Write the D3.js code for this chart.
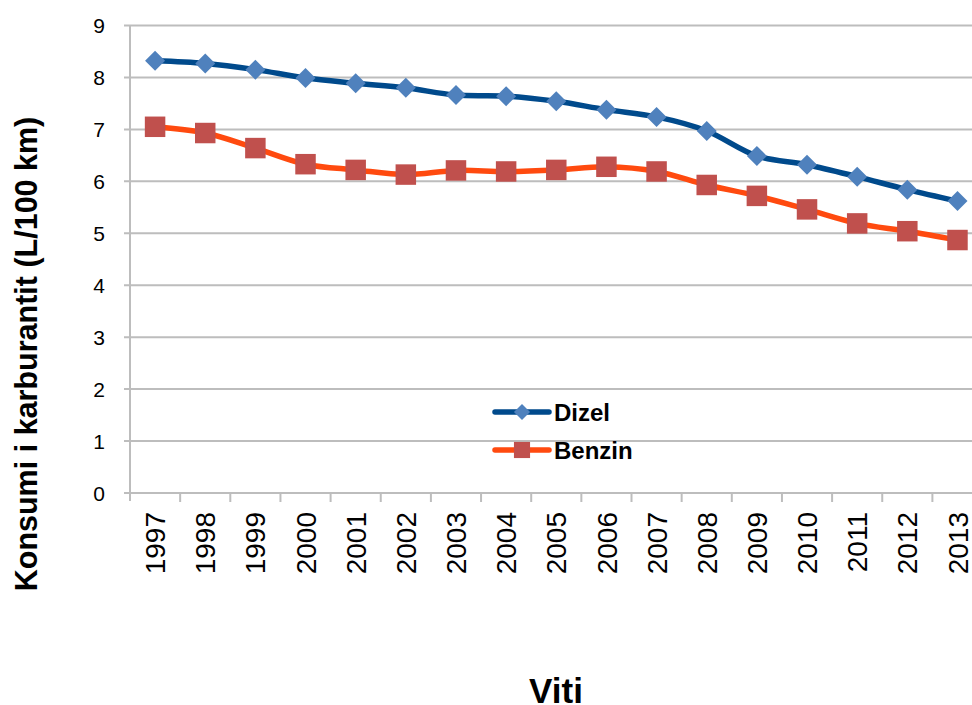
<!DOCTYPE html>
<html>
<head>
<meta charset="utf-8">
<script src="https://cdn.jsdelivr.net/npm/d3@7"></script>
<style>
  body { margin: 0; background: #fff; }
  svg { display: block; }
</style>
</head>
<body>
<svg id="chart" width="972" height="705"></svg>
<script>
const years = ['1997','1998','1999','2000','2001','2002','2003','2004','2005','2006','2007','2008','2009','2010','2011','2012','2013'];
const dizel = [8.32, 8.27, 8.15, 7.99, 7.89, 7.80, 7.66, 7.64, 7.54, 7.38, 7.24, 6.97, 6.49, 6.32, 6.09, 5.84, 5.62];
const benzin = [7.05, 6.93, 6.64, 6.33, 6.22, 6.13, 6.21, 6.19, 6.22, 6.28, 6.19, 5.93, 5.72, 5.46, 5.19, 5.04, 4.87];
const yTicks = [0, 1, 2, 3, 4, 5, 6, 7, 8, 9];

const plotLeft = 130, plotTop = 25.5, plotBottom = 493;
const band = 50.15;
const font = 'Liberation Sans, Arial, sans-serif';

const svg = d3.select('#chart');

const x = d3.scaleBand()
  .domain(years)
  .range([plotLeft, plotLeft + band * years.length])
  .paddingInner(0).paddingOuter(0);

const y = d3.scaleLinear()
  .domain([0, 9])
  .range([plotBottom, plotTop]);

// gridlines
svg.append('g')
  .selectAll('line')
  .data(yTicks)
  .enter()
  .append('line')
  .attr('x1', plotLeft - 6)
  .attr('x2', plotLeft + band * years.length)
  .attr('y1', d => y(d))
  .attr('y2', d => y(d))
  .attr('stroke', '#bdbdbd')
  .attr('stroke-width', 2);

// y axis line
svg.append('line')
  .attr('x1', plotLeft).attr('x2', plotLeft)
  .attr('y1', plotTop).attr('y2', plotBottom + 8)
  .attr('stroke', '#bdbdbd')
  .attr('stroke-width', 2);

// x ticks at band boundaries
svg.append('g')
  .selectAll('line')
  .data(years)
  .enter()
  .append('line')
  .attr('x1', d => x(d) + band)
  .attr('x2', d => x(d) + band)
  .attr('y1', plotBottom)
  .attr('y2', plotBottom + 9)
  .attr('stroke', '#bdbdbd')
  .attr('stroke-width', 2);

// y tick labels
svg.append('g')
  .selectAll('text')
  .data(yTicks)
  .enter()
  .append('text')
  .attr('x', 105)
  .attr('y', d => y(d))
  .attr('dy', '0.36em')
  .attr('text-anchor', 'end')
  .attr('font-family', font)
  .attr('font-size', 21)
  .attr('fill', '#000')
  .text(d => d);

// x tick labels (rotated)
svg.append('g')
  .selectAll('text')
  .data(years)
  .enter()
  .append('text')
  .attr('transform', d => 'translate(' + (x(d) + band / 2) + ',' + 512 + ') rotate(-90)')
  .attr('dy', '0.36em')
  .attr('text-anchor', 'end')
  .attr('font-family', font)
  .attr('font-size', 28)
  .attr('fill', '#000')
  .text(d => d);

// axis titles
svg.append('text')
  .attr('transform', 'translate(37,354) rotate(-90)')
  .attr('text-anchor', 'middle')
  .attr('font-family', font)
  .attr('font-weight', 'bold')
  .attr('font-size', 30.5)
  .attr('fill', '#000')
  .text('Konsumi i karburantit (L/100 km)');

svg.append('text')
  .attr('x', 556)
  .attr('y', 703)
  .attr('text-anchor', 'middle')
  .attr('font-family', font)
  .attr('font-weight', 'bold')
  .attr('font-size', 35)
  .attr('fill', '#000')
  .text('Viti');

const line = d3.line()
  .x((d, i) => x(years[i]) + band / 2)
  .y(d => y(d))
  .curve(d3.curveCatmullRom.alpha(0.5));

// diamond = square turned by 45 degrees
const series = [
  { name: 'Dizel', values: dizel, lineColor: '#004a8c', markColor: '#4f81bd', shape: d3.symbolSquare, rot: 45, size: 200, legendSize: 130 },
  { name: 'Benzin', values: benzin, lineColor: '#ff4a0f', markColor: '#c0504d', shape: d3.symbolSquare, rot: 0, size: 420, legendSize: 260 }
];

series.forEach(s => {
  svg.append('path')
    .datum(s.values)
    .attr('d', line)
    .attr('fill', 'none')
    .attr('stroke', s.lineColor)
    .attr('stroke-width', 5.5)
    .attr('stroke-linejoin', 'round');

  svg.append('g')
    .selectAll('path')
    .data(s.values)
    .enter()
    .append('path')
    .attr('transform', (d, i) => 'translate(' + (x(years[i]) + band / 2) + ',' + y(d) + ') rotate(' + s.rot + ')')
    .attr('d', d3.symbol().type(s.shape).size(s.size))
    .attr('fill', s.markColor);
});

// legend
const legend = svg.append('g').attr('transform', 'translate(495,412)');
series.forEach((s, i) => {
  const g = legend.append('g').attr('transform', 'translate(0,' + (i * 38) + ')');
  g.append('line')
    .attr('x1', 0).attr('x2', 54)
    .attr('stroke', s.lineColor)
    .attr('stroke-width', 5.5)
    .attr('stroke-linecap', 'round');
  g.append('path')
    .attr('transform', 'translate(27,0) rotate(' + s.rot + ')')
    .attr('d', d3.symbol().type(s.shape).size(s.legendSize))
    .attr('fill', s.markColor);
  g.append('text')
    .attr('x', 59)
    .attr('dy', '0.36em')
    .attr('font-family', font)
    .attr('font-weight', 'bold')
    .attr('font-size', 24)
    .attr('fill', '#000')
    .text(s.name);
});
</script>
</body>
</html>
